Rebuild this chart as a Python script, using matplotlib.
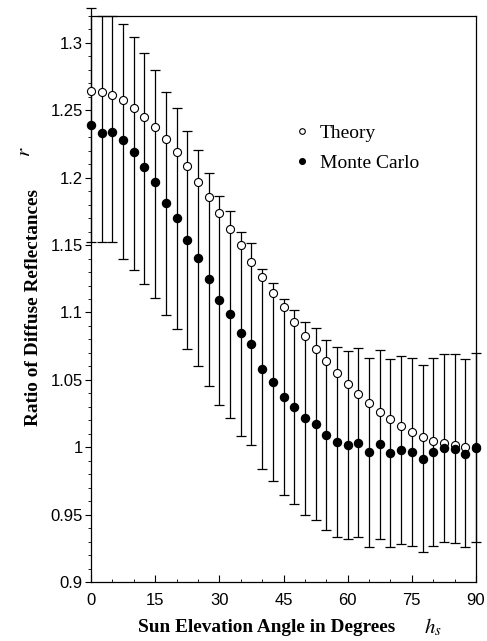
import matplotlib

matplotlib.use("Agg")
import matplotlib.pyplot as plt
from matplotlib.ticker import MultipleLocator

# sun elevation angle h_s (degrees)
elevation = [0, 2.5, 5, 7.5, 10, 12.5, 15, 17.5, 20, 22.5, 25, 27.5, 30,
             32.5, 35, 37.5, 40, 42.5, 45, 47.5, 50, 52.5, 55, 57.5, 60,
             62.5, 65, 67.5, 70, 72.5, 75, 77.5, 80, 82.5, 85, 87.5, 90]

theory = [1.2640, 1.2638, 1.2611, 1.2574, 1.2520, 1.2453, 1.2374, 1.2286,
          1.2190, 1.2087, 1.1971, 1.1860, 1.1740, 1.1623, 1.1500, 1.1377,
          1.1261, 1.1147, 1.1038, 1.0930, 1.0828, 1.0729, 1.0638, 1.0549,
          1.0469, 1.0395, 1.0326, 1.0264, 1.0210, 1.0160, 1.0116, 1.0079,
          1.0049, 1.0029, 1.0017, 1.0004, 1.0000]

monte_carlo = [1.2392, 1.2335, 1.2340, 1.2278, 1.2192, 1.2076, 1.1965, 1.1813,
               1.1702, 1.1537, 1.1406, 1.1251, 1.1090, 1.0985, 1.0845, 1.0766,
               1.0581, 1.0482, 1.0375, 1.0301, 1.0215, 1.0175, 1.0091, 1.0039,
               1.0017, 1.0029, 0.9962, 1.0022, 0.9960, 0.9980, 0.9962, 0.9915,
               0.9965, 0.9992, 0.9987, 0.9952, 0.9997]

# error bar ends for the Monte Carlo points
mc_upper = [1.3258, 1.3200, 1.3200, 1.3137, 1.3044, 1.2926, 1.2800, 1.2638,
            1.2517, 1.2343, 1.2205, 1.2037, 1.1865, 1.1755, 1.1600, 1.1518,
            1.1322, 1.1218, 1.1100, 1.1019, 1.0932, 1.0887, 1.0796, 1.0746,
            1.0717, 1.0734, 1.0660, 1.0722, 1.0657, 1.0677, 1.0660, 1.0610,
            1.0660, 1.0690, 1.0690, 1.0653, 1.0702]
mc_lower = [1.1525, 1.1525, 1.1525, 1.1398, 1.1317, 1.1208, 1.1107, 1.0980,
            1.0876, 1.0728, 1.0604, 1.0455, 1.0312, 1.0215, 1.0086, 1.0014,
            0.9839, 0.9750, 0.9648, 0.9579, 0.9500, 0.9463, 0.9386, 0.9336,
            0.9319, 0.9332, 0.9262, 0.9321, 0.9260, 0.9280, 0.9267, 0.9220,
            0.9267, 0.9295, 0.9289, 0.9257, 0.9297]

ytick_vals = [0.9, 0.95, 1.0, 1.05, 1.1, 1.15, 1.2, 1.25, 1.3]
ytick_text = ["0.9", "0.95", "1", "1.05", "1.1", "1.15", "1.2", "1.25", "1.3"]

SERIF = ["Liberation Serif", "DejaVu Serif"]
SANS = ["Liberation Sans", "DejaVu Sans"]

W, H = 487, 641
fig = plt.figure(figsize=(W / 100, H / 100), dpi=100)
ax = fig.add_axes([91 / W, (H - 582) / H, (476 - 91) / W, (582 - 16) / H])

yerr = [[m - lo for m, lo in zip(monte_carlo, mc_lower)],
        [hi - m for m, hi in zip(monte_carlo, mc_upper)]]
eb = ax.errorbar(elevation, monte_carlo, yerr=yerr, fmt="none", ecolor="black",
                 elinewidth=0.9, capsize=3.6, capthick=0.9, zorder=2)
for art in eb.get_children():
    art.set_clip_on(False)

ax.plot(elevation, theory, "o", ms=5.8, mfc="white", mec="black", mew=0.8,
        ls="none", label="Theory", zorder=3, clip_on=False)
ax.plot(elevation, monte_carlo, "o", ms=5.8, mfc="black", mec="black",
        ls="none", label="Monte Carlo", zorder=4, clip_on=False)

ax.set_xlim(0, 90)
ax.set_ylim(0.9, 1.32)
ax.xaxis.set_major_locator(MultipleLocator(15))
ax.xaxis.set_minor_locator(MultipleLocator(5))
ax.yaxis.set_minor_locator(MultipleLocator(0.01))
ax.set_yticks(ytick_vals)
ax.set_yticklabels(ytick_text)
ax.tick_params(axis="x", which="major", direction="in", length=5, width=0.8,
               pad=8, labelsize=12)
ax.tick_params(axis="x", which="minor", direction="in", length=2.5, width=0.6)
ax.tick_params(axis="y", which="major", direction="out", length=4.5, width=0.8,
               pad=1.5, labelsize=12)
ax.tick_params(axis="y", which="minor", direction="out", length=2, width=0.6)
for lab in ax.get_xticklabels() + ax.get_yticklabels():
    lab.set_family(SANS)
for sp in ax.spines.values():
    sp.set_linewidth(0.9)

ax.legend(loc="upper left", bbox_to_anchor=(0.5286, 0.808), frameon=False,
          borderpad=0, borderaxespad=0, handlelength=0.8, handletextpad=0.5,
          labelspacing=0.6, markerscale=0.7,
          prop={"family": SERIF, "size": 14})

fig.text(138 / W, 1 - 628 / H, "Sun Elevation Angle in Degrees", ha="left",
         va="center", family=SERIF, weight="bold", fontsize=13.9)
fig.text(424 / W, 1 - 627 / H, r"$h_s$", ha="left", va="center",
         fontsize=15, math_fontfamily="stix")
fig.text(34 / W, 1 - 307 / H, "Ratio of Diffuse Reflectances", rotation=90,
         ha="center", va="center", family=SERIF, weight="bold", fontsize=13.9)
fig.text(24 / W, 1 - 152 / H, r"$r$", rotation=90, ha="center", va="center",
         fontsize=15, math_fontfamily="stix")

fig.savefig("out.png", dpi=100)
